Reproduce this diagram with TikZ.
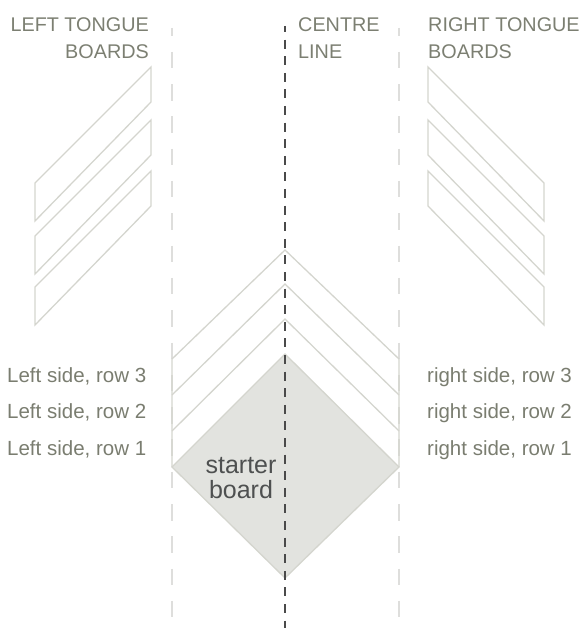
\documentclass[tikz,border=0pt]{standalone}
\usepackage{fontspec}
\setmainfont{Liberation Sans}
\definecolor{boardline}{HTML}{D4D5CE}
\definecolor{guide}{HTML}{DEDEDC}
\definecolor{headtext}{HTML}{7C7F72}
\definecolor{sidetext}{HTML}{7A7D70}
\definecolor{startfill}{HTML}{E2E3DF}
\definecolor{centre}{HTML}{4A4A4A}
\definecolor{starttext}{HTML}{4E5050}
\tikzset{
  board/.style={draw=boardline,line width=1.3pt,line join=miter},
  guideline/.style={draw=guide,line width=1.4pt,dash pattern=on 16.5pt off 15.8pt,dash phase=8.5pt},
  centreline/.style={draw=centre,line width=1.2pt,dash pattern=on 9pt off 7.6pt,dash phase=3pt},
  head/.style={inner sep=0pt,text=headtext,font=\fontsize{19.8}{27}\selectfont},
  side/.style={inner sep=0pt,anchor=base west,text=sidetext,font=\fontsize{20.5}{22}\selectfont}
}
\begin{document}
\begin{tikzpicture}[x=1pt,y=-1pt]
\useasboundingbox (0,0) rectangle (582,628);
% guide lines
\coordinate (gl1) at (172,28); \coordinate (gl2) at (172,617);
\coordinate (gr1) at (399,28); \coordinate (gr2) at (399,617);
\coordinate (c1) at (285,26); \coordinate (c2) at (285,628);
\draw[guideline] (gl1) -- (gl2);
\draw[guideline] (gr1) -- (gr2);
% starter board
\path[board,fill=startfill] (285,354) -- (399,467) -- (285,578) -- (172,467) -- cycle;
% chevrons
\draw[board] (172,467) -- (172,359) -- (285,250) -- (399,359) -- (399,467);
\draw[board] (172,395) -- (285,284) -- (399,395);
\draw[board] (172,431) -- (285,319) -- (399,431);
\draw[centreline] (c1) -- (c2);
% left boards
\draw[board] (151,67) -- (151,102) -- (35,221) -- (35,183) -- cycle;
\draw[board] (151,120) -- (151,155) -- (35,274) -- (35,236) -- cycle;
\draw[board] (151,171) -- (151,206) -- (35,325) -- (35,287) -- cycle;
% right boards
\draw[board] (428,67) -- (428,102) -- (544,221) -- (544,183) -- cycle;
\draw[board] (428,120) -- (428,155) -- (544,274) -- (544,236) -- cycle;
\draw[board] (428,171) -- (428,206) -- (544,325) -- (544,287) -- cycle;
% headings
\node[head,anchor=north east,align=right] (hl) at (149,17) {LEFT TONGUE\\BOARDS};
\node[head,anchor=north west,align=left] (hc) at (298,17) {CENTRE\\LINE};
\node[head,anchor=north west,align=left] (hr) at (428,17) {RIGHT TONGUE\\BOARDS};
% side labels
\node[side] (l3) at (7,382) {Left side, row 3};
\node[side] (l2) at (7,418.5) {Left side, row 2};
\node[side] (l1) at (7,455) {Left side, row 1};
\node[side] (r3) at (427,382) {right side, row 3};
\node[side] (r2) at (427,418.5) {right side, row 2};
\node[side] (r1) at (427,455) {right side, row 1};
\node[inner sep=0pt,align=center,text=starttext,font=\fontsize{25}{25}\selectfont] (st) at (241,478) {starter\\board};
\end{tikzpicture}
\end{document}
